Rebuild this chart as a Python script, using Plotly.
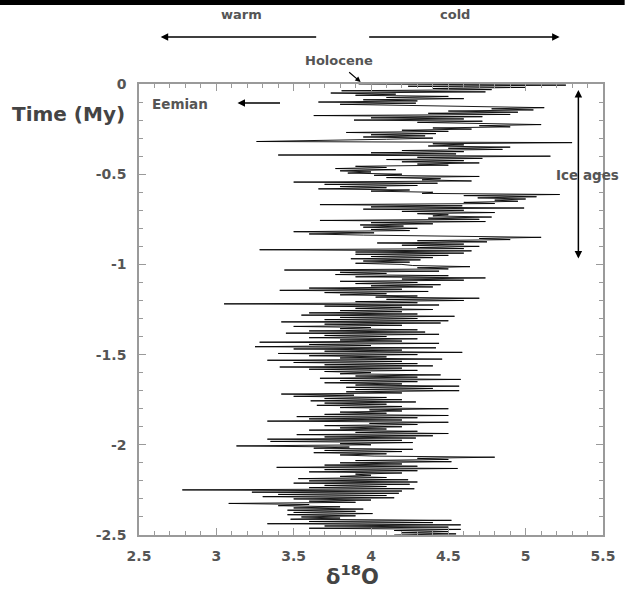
import numpy as np
import plotly.graph_objects as go

# delta-18O values, one every AGE_STEP My starting at 0 My
D18O = [
    3.92, 5.26, 4.24, 5.0, 4.4, 4.78, 3.81, 4.74, 3.74, 4.16,
    3.9, 4.5, 4.1, 4.6, 3.95, 4.3, 3.66, 4.29, 3.8, 4.2,
    4.6, 5.12, 4.78, 5.05, 4.5, 4.95, 4.37, 4.9, 3.63, 4.72,
    4.0, 4.6, 3.89, 4.72, 4.3, 4.65, 5.1, 4.7, 4.9, 4.4,
    4.65, 4.2, 4.5, 3.84, 4.42, 4.0, 4.35, 3.95, 4.4, 4.1,
    3.5, 3.26, 5.3, 4.4, 4.6, 4.37, 4.9, 4.5, 4.85, 4.2,
    4.6, 4.0, 4.55, 3.4, 5.16, 4.3, 4.72, 4.1, 4.6, 4.2,
    4.7, 4.3, 4.5, 3.9, 4.1, 3.77, 4.16, 3.8, 4.0, 3.85,
    4.2, 4.02, 4.7, 4.1, 4.45, 4.33, 4.65, 3.5, 4.43, 3.7,
    4.3, 3.8, 4.1, 3.66, 4.25, 4.0, 4.4, 4.33, 5.22, 4.6,
    5.07, 4.69, 5.0, 4.8, 4.95, 4.6, 4.8, 3.67, 4.59, 4.0,
    4.99, 3.95, 4.6, 4.2, 4.8, 4.3, 4.5, 4.4, 4.78, 4.37,
    4.7, 3.67, 4.74, 4.0, 4.4, 3.93, 4.21, 3.95, 4.3, 4.0,
    4.25, 3.5, 4.02, 3.6, 3.95, 4.56, 5.1, 4.7, 4.9, 4.3,
    4.75, 4.04, 4.6, 4.2, 4.7, 4.3, 4.6, 3.28, 4.65, 3.9,
    4.6, 3.9, 4.5, 4.0, 4.4, 3.87, 4.32, 3.95, 4.25, 3.9,
    4.2, 4.27, 4.64, 4.3, 4.5, 3.44, 4.44, 3.8, 4.1, 3.77,
    4.5, 3.9, 4.74, 4.2, 4.6, 3.8, 4.3, 3.9, 4.45, 4.0,
    4.4, 3.6, 4.2, 3.41, 4.37, 3.7, 4.1, 3.8, 4.3, 4.03,
    4.7, 4.1, 4.6, 3.9, 4.3, 3.05, 4.44, 3.7, 4.2, 3.9,
    4.4, 3.8, 4.2, 3.6, 4.3, 3.55, 4.54, 3.8, 4.3, 3.7,
    4.5, 3.42, 4.45, 3.7, 4.2, 3.5, 4.0, 3.8, 4.3, 3.6,
    4.35, 3.45, 4.44, 3.7, 4.1, 3.6, 4.3, 3.8, 4.2, 3.28,
    4.44, 3.6, 4.0, 3.25, 4.42, 3.5, 4.2, 3.7, 4.59, 3.4,
    4.3, 3.6, 4.1, 3.8, 4.46, 3.33, 4.2, 3.5, 4.3, 3.7,
    4.4, 3.41, 4.2, 3.6, 4.3, 3.7, 4.0, 3.8, 4.45, 3.9,
    4.3, 3.67, 4.58, 3.8, 4.3, 3.7, 4.2, 3.9, 4.57, 3.84,
    4.4, 3.9, 4.57, 3.84, 4.2, 3.42, 3.89, 3.5, 4.1, 3.7,
    4.2, 3.61, 4.29, 3.7, 4.1, 3.65, 4.2, 3.8, 4.5, 3.99,
    4.2, 3.8, 4.1, 3.7, 4.5, 3.52, 4.3, 3.6, 4.2, 3.33,
    4.5, 3.99, 4.3, 3.7, 4.2, 3.8, 4.1, 3.6, 4.3, 3.9,
    4.5, 3.52, 4.4, 3.7, 4.29, 3.33, 4.2, 3.35, 4.27, 3.8,
    4.0, 3.13, 3.86, 3.63, 4.27, 3.7, 4.2, 3.63, 4.1, 3.8,
    4.02, 4.8, 4.3, 4.5, 3.9, 4.52, 3.8, 4.2, 3.7, 4.3,
    3.39, 4.56, 3.7, 4.3, 3.6, 4.2, 3.9, 4.0, 3.8, 4.1,
    3.53, 4.24, 3.6, 4.3, 3.5, 4.25, 3.7, 4.1, 3.6, 4.28,
    2.78, 4.2, 3.23, 4.18, 3.4, 4.1, 3.3, 4.15, 3.5, 4.0,
    3.6, 3.9, 3.08, 3.6, 3.4, 3.8, 3.5, 3.95, 3.46, 3.9,
    3.5, 4.01, 3.46, 3.9, 3.55, 3.8, 3.48, 4.52, 3.6, 4.4,
    3.33, 4.58, 3.7, 4.5, 3.6, 4.58, 4.15, 4.5, 4.2, 4.55,
    4.15,
]
AGE_STEP = 0.00625  # My between samples
TIME = [-i * AGE_STEP for i in range(len(D18O))]

X_TICKS = [2.5, 3, 3.5, 4, 4.5, 5, 5.5]
X_TICK_TEXT = ["2.5", "3", "3.5", "4", "4.5", "5", "5.5"]
Y_TICKS = [0, -0.5, -1, -1.5, -2, -2.5]
Y_TICK_TEXT = ["0", "-0.5", "-1", "-1.5", "-2", "-2.5"]

W, H = 627, 595
L, R, T, B = 139, 17, 84, 60
PW, PH = W - L - R, H - T - B


def px(x):
    return (x - L) / PW


def py(y):
    return (H - B - y) / PH


GRAY = "#555555"
AX = "#9a9a9a"
FONT = "DejaVu Sans"

fig = go.Figure()
fig.add_trace(go.Scatter(x=D18O, y=TIME, mode="lines",
                         line=dict(color="black", width=0.9), showlegend=False,
                         hoverinfo="skip"))

axis_common = dict(showline=True, linecolor=AX, linewidth=1.5, mirror="ticks",
                   ticks="inside", ticklen=7, tickwidth=1, tickcolor=AX,
                   showgrid=False, zeroline=False,
                   tickfont=dict(family=FONT, size=14, color=GRAY, weight="bold"))
fig.update_xaxes(range=[2.5, 5.5], tickvals=X_TICKS, ticktext=X_TICK_TEXT,
                 minor=dict(dtick=0.1, tick0=2.5, ticks="inside", ticklen=4,
                            tickcolor=AX, tickwidth=1),
                 ticklabelstandoff=7, **axis_common)
fig.update_yaxes(range=[-2.5, 0], tickvals=Y_TICKS, ticktext=Y_TICK_TEXT,
                 minor=dict(dtick=0.1, tick0=0, ticks="inside", ticklen=4,
                            tickcolor=AX, tickwidth=1),
                 ticklabelstandoff=8, **axis_common)

ann = []


def text(t, x, y, size, color=GRAY):
    ann.append(dict(text=t, x=px(x), y=py(y), xref="paper", yref="paper",
                    showarrow=False, xanchor="center", yanchor="middle",
                    font=dict(family=FONT, size=size, color=color, weight="bold")))


def arrow(x0, y0, x1, y1, side="end", size=1.0, width=1.5):
    # arrow from (x0,y0) tail to (x1,y1) head, pixel coordinates
    ann.append(dict(text="", x=px(x1), y=py(y1), xref="paper", yref="paper",
                    ax=x0 - x1, ay=y0 - y1, showarrow=True, arrowhead=2,
                    arrowsize=size, arrowwidth=width, arrowcolor="black",
                    arrowside=side))


text("warm", 243, 15, 13)
text("cold", 460, 15, 13)
arrow(318, 37, 161, 37)
arrow(374, 37, 566, 37)
text("Holocene", 342, 61, 13)
arrow(351, 71, 364, 82, size=0.9, width=1.2)
text("Eemian", 181, 104, 13.5)
arrow(283, 103, 239, 103)
arrow(585, 260, 585, 90, side="end+start")
text("Ice ages", 594, 175, 13.5)
text("Time (My)", 67, 114, 20, color="#444444")
text("δ<sup>18</sup>O", 356, 575, 21, color="#444444")

fig.update_layout(
    width=W, height=H, margin=dict(l=L, r=R, t=T, b=B),
    plot_bgcolor="white", paper_bgcolor="white",
    annotations=ann,
    shapes=[dict(type="rect", xref="paper", yref="paper",
                 x0=px(-5), x1=px(W + 5), y0=py(5), y1=py(-5),
                 fillcolor="black", line=dict(width=0), layer="above")],
)
fig.write_html("out.html")
